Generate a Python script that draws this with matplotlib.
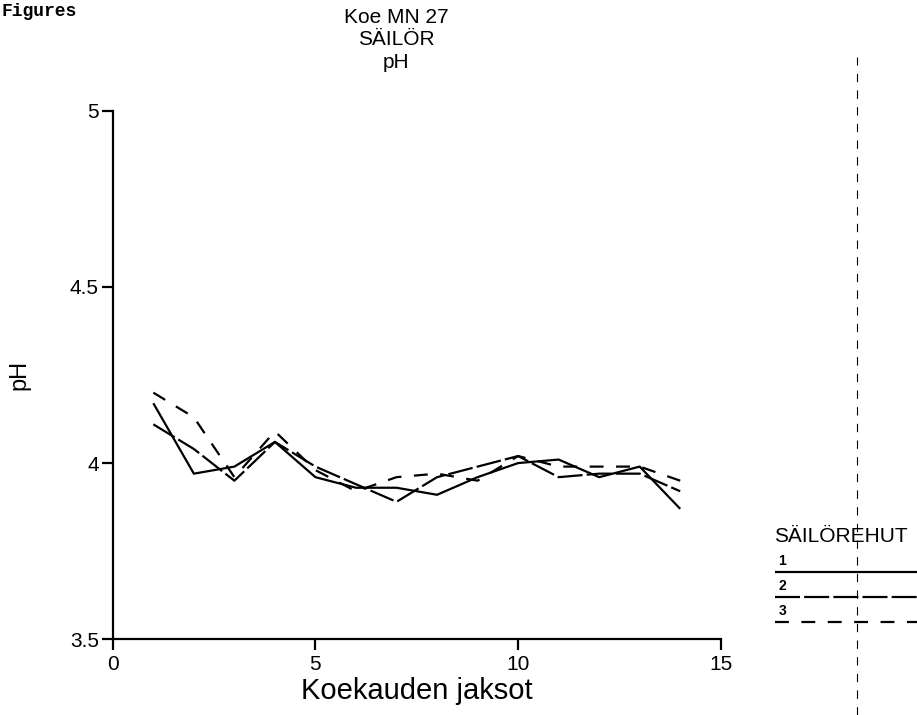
import numpy as np
import matplotlib
matplotlib.use("Agg")
import matplotlib.pyplot as plt

plt.rcParams.update({'font.family': ['Liberation Sans', 'DejaVu Sans'],
                     'lines.scale_dashes': False,
                     'axes.linewidth': 1.6})

# data
jakso = list(range(1, 15))
rehu1 = [4.17, 3.97, 3.99, 4.06, 3.96, 3.93, 3.93, 3.91, 3.96, 4.00, 4.01, 3.96, 3.99, 3.87]
rehu2 = [4.11, 4.04, 3.95, 4.06, 3.99, 3.94, 3.89, 3.96, 3.99, 4.02, 3.96, 3.97, 3.97, 3.92]
rehu3 = [4.20, 4.13, 3.96, 4.09, 3.98, 3.92, 3.96, 3.97, 3.95, 4.02, 3.99, 3.99, 3.99, 3.95]
xticks = [0, 5, 10, 15]
yticks = [3.5, 4, 4.5, 5]
ytick_labels = ['3.5', '4', '4.5', '5']
legend_names = ['1', '2', '3']

styles = [(0, ()), (0, (18, 3)), (0, (10, 9))]

fig = plt.figure(figsize=(9.17, 7.15), dpi=100)
ax = fig.add_axes([0.123, 0.106, 0.663, 0.739])

for vals, ls in zip([rehu1, rehu2, rehu3], styles):
    ax.plot(jakso, vals, color='black', lw=1.6, linestyle=ls)

ax.set_xlim(0, 15)
ax.set_ylim(3.5, 5)
ax.set_xticks(xticks)
ax.set_yticks(yticks)
ax.set_yticklabels(ytick_labels)
ax.spines['top'].set_visible(False)
ax.spines['right'].set_visible(False)
ax.tick_params(direction='out', length=8, width=1.6, labelsize=15)
ax.tick_params(axis='y', pad=2)
ax.set_xlabel('Koekauden jaksot', fontsize=21, labelpad=2)
ax.set_ylabel('pH', fontsize=17)
ax.yaxis.set_label_coords(-0.135, 0.5)

# title block
fig.text(0.432, 0.976, 'Koe MN 27', ha='center', va='center', fontsize=15)
fig.text(0.432, 0.945, 'SÄILÖR', ha='center', va='center', fontsize=15)
fig.text(0.432, 0.912, 'pH', ha='center', va='center', fontsize=15)
fig.text(0.002, 0.984, 'Figures', ha='left', va='center', fontsize=13,
         family='Liberation Mono', weight='bold')

# legend on the right
fig.text(0.917, 0.250, 'SÄILÖREHUT', ha='center', va='center', fontsize=15)
for i, (name, ls) in enumerate(zip(legend_names, styles)):
    y = 0.200 - i * 0.035
    fig.text(0.849, y + 0.006, name, ha='left', va='bottom', fontsize=10, weight='bold')
    fig.add_artist(plt.Line2D([0.845, 1.0], [y, y], color='black', lw=1.6,
                              linestyle=ls, transform=fig.transFigure))

# dashed fold line of the scan
fig.add_artist(plt.Line2D([0.935, 0.935], [0.0, 0.92], color='black', lw=0.8,
                          linestyle=(0, (6, 6)), transform=fig.transFigure))

fig.savefig('out.png', dpi=100)
